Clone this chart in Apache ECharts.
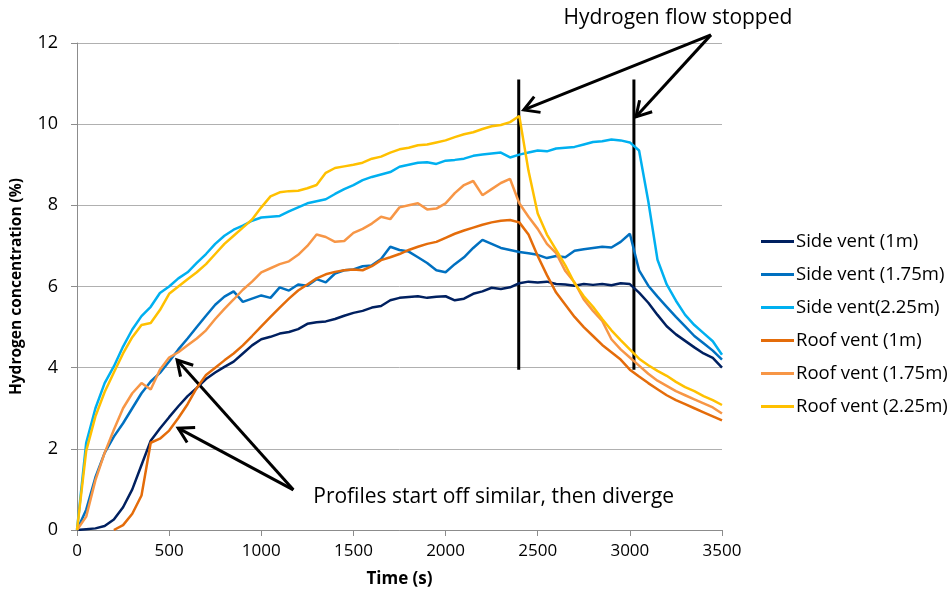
<!DOCTYPE html>
<html>
<head>
<meta charset="utf-8">
<script src="https://cdn.jsdelivr.net/npm/echarts@6/dist/echarts.min.js"></script>
<style>
    html, body { margin: 0; padding: 0; background: #fff; }
    #chart { width: 952px; height: 602px; }
</style>
</head>
<body>
<div id="chart"></div>
<script>
// time (s), every 50 s
const times = [
    0, 50, 100, 150, 200, 250, 300, 350, 400, 450,
    500, 550, 600, 650, 700, 750, 800, 850, 900, 950,
    1000, 1050, 1100, 1150, 1200, 1250, 1300, 1350, 1400, 1450,
    1500, 1550, 1600, 1650, 1700, 1750, 1800, 1850, 1900, 1950,
    2000, 2050, 2100, 2150, 2200, 2250, 2300, 2350, 2400, 2450,
    2500, 2550, 2600, 2650, 2700, 2750, 2800, 2850, 2900, 2950,
    3000, 3050, 3100, 3150, 3200, 3250, 3300, 3350, 3400, 3450, 3500
];

// hydrogen concentration (%)
const sideVent1m = [
    0, 0.02, 0.04, 0.1, 0.26, 0.56, 1.0, 1.6, 2.2, 2.5,
    2.78, 3.05, 3.3, 3.5, 3.72, 3.88, 4.02, 4.15, 4.35, 4.55,
    4.7, 4.76, 4.84, 4.88, 4.95, 5.08, 5.12, 5.14, 5.2, 5.28,
    5.35, 5.4, 5.48, 5.52, 5.66, 5.72, 5.74, 5.76, 5.72, 5.75,
    5.76, 5.66, 5.7, 5.82, 5.88, 5.97, 5.94, 5.98, 6.08, 6.12,
    6.1, 6.12, 6.06, 6.05, 6.02, 6.06, 6.04, 6.06, 6.03, 6.08,
    6.06, 5.85, 5.6, 5.3, 5.02, 4.82, 4.66, 4.5, 4.35, 4.24, 4.0
];
const sideVent175m = [
    0, 0.5, 1.3, 1.9, 2.3, 2.63, 3.0, 3.37, 3.66, 3.87,
    4.15, 4.45, 4.72, 5.0, 5.28, 5.55, 5.75, 5.88, 5.62, 5.7,
    5.78, 5.72, 5.98, 5.9, 6.05, 6.02, 6.18, 6.1, 6.32, 6.4,
    6.42, 6.5, 6.52, 6.68, 6.98, 6.9, 6.86, 6.72, 6.58, 6.4,
    6.35, 6.55, 6.72, 6.95, 7.15, 7.05, 6.95, 6.9, 6.85, 6.82,
    6.78, 6.7, 6.75, 6.72, 6.88, 6.92, 6.95, 6.98, 6.96, 7.1,
    7.3, 6.4, 6.02, 5.75, 5.5, 5.25, 5.02, 4.78, 4.6, 4.42, 4.2
];
const sideVent225m = [
    0, 2.15, 3.0, 3.62, 4.03, 4.52, 4.94, 5.27, 5.5, 5.84,
    6.0, 6.2, 6.35, 6.58, 6.8, 7.05, 7.25, 7.4, 7.5, 7.62,
    7.7, 7.72, 7.74, 7.85, 7.95, 8.05, 8.1, 8.15, 8.28, 8.4,
    8.5, 8.62, 8.7, 8.76, 8.82, 8.95, 9.0, 9.05, 9.06, 9.02,
    9.1, 9.12, 9.15, 9.22, 9.25, 9.28, 9.3, 9.18, 9.25, 9.3,
    9.35, 9.33, 9.4, 9.42, 9.44, 9.5, 9.56, 9.58, 9.62, 9.6,
    9.55, 9.35, 8.1, 6.66, 6.05, 5.65, 5.3, 5.05, 4.85, 4.65, 4.32
];
const roofVent1m = [
    null, null, null, null, 0.0, 0.12, 0.4, 0.85, 2.15, 2.25,
    2.45, 2.76, 3.1, 3.5, 3.82, 4.0, 4.18, 4.35, 4.55, 4.78,
    5.02, 5.25, 5.48, 5.7, 5.9, 6.05, 6.2, 6.3, 6.36, 6.4,
    6.42, 6.4, 6.5, 6.65, 6.72, 6.8, 6.9, 6.98, 7.05, 7.1,
    7.2, 7.3, 7.38, 7.45, 7.52, 7.58, 7.62, 7.64, 7.58, 7.28,
    6.75, 6.28, 5.85, 5.55, 5.25, 5.0, 4.78, 4.56, 4.38, 4.2,
    3.95, 3.78, 3.62, 3.47, 3.32, 3.2, 3.1, 3.0, 2.9, 2.8, 2.7
];
const roofVent175m = [
    0, 0.33, 1.23, 1.9, 2.47, 3.0, 3.37, 3.62, 3.46, 3.95,
    4.25, 4.38, 4.55, 4.72, 4.92, 5.2, 5.45, 5.68, 5.92, 6.12,
    6.35, 6.45, 6.55, 6.62, 6.78, 7.0, 7.28, 7.22, 7.1, 7.12,
    7.32, 7.42, 7.55, 7.72, 7.66, 7.95, 8.0, 8.05, 7.9, 7.92,
    8.05, 8.3, 8.5, 8.6, 8.25, 8.4, 8.55, 8.65, 8.05, 7.72,
    7.42, 7.05, 6.82, 6.38, 6.1, 5.68, 5.4, 5.15, 4.7, 4.45,
    4.25, 4.05, 3.85, 3.68, 3.55, 3.42, 3.32, 3.22, 3.12, 3.02, 2.87
];
const roofVent225m = [
    0, 1.95, 2.8, 3.4, 3.88, 4.35, 4.75, 5.05, 5.1, 5.42,
    5.82, 6.0, 6.18, 6.35, 6.55, 6.8, 7.05, 7.25, 7.45, 7.65,
    7.95, 8.22, 8.32, 8.35, 8.36, 8.42, 8.5, 8.8, 8.92, 8.96,
    9.0, 9.05, 9.15, 9.2, 9.3, 9.38, 9.42, 9.48, 9.5, 9.55,
    9.6, 9.68, 9.75, 9.8, 9.88, 9.95, 9.98, 10.05, 10.2, 8.85,
    7.8, 7.28, 6.9, 6.52, 6.08, 5.76, 5.5, 5.2, 4.92, 4.68,
    4.45, 4.22, 4.06, 3.92, 3.8, 3.65, 3.52, 3.42, 3.3, 3.2, 3.08
];

const seriesNames = [
    'Side vent (1m)', 'Side vent (1.75m)', 'Side vent(2.25m)',
    'Roof vent (1m)', 'Roof vent (1.75m)', 'Roof vent (2.25m)'
];
const seriesValues = [sideVent1m, sideVent175m, sideVent225m, roofVent1m, roofVent175m, roofVent225m];
const seriesColors = ['#002060', '#0070C0', '#00B0F0', '#E46C0A', '#F79646', '#FFC000'];

// annotations, in data units (time s, concentration %)
const flowStopTimes = [2397, 3022];
const flowStopRange = [3.95, 11.1];
const flowArrowFrom = [3440, 12.2];
const flowArrowTips = [[2424, 10.35], [3033, 10.18]];
const flowLabel = 'Hydrogen flow stopped';
const flowLabelAt = [3261, 12.62];
const profileArrowFrom = [1174, 0.99];
const profileArrowTips = [[543, 4.19], [549, 2.51]];
const profileLabel = 'Profiles start off similar, then diverge';
const profileLabelAt = [1282, 0.81];

const FONT = "'Open Sans', 'Noto Sans', sans-serif";

const chart = echarts.init(document.getElementById('chart'), null, { renderer: 'canvas' });

const option = {
    animation: false,
    backgroundColor: '#fff',
    textStyle: { fontFamily: FONT },
    grid: { left: 77, right: 230, top: 43, bottom: 72 },
    legend: {
        orient: 'vertical',
        left: 756,
        top: 227,
        icon: 'rect',
        itemWidth: 33,
        itemHeight: 3,
        itemGap: 14,
        textStyle: { fontFamily: FONT, fontSize: 18.5, lineHeight: 19, color: '#000', padding: [0, 0, 0, -3] },
        data: seriesNames
    },
    xAxis: {
        type: 'value',
        min: 0,
        max: 3500,
        interval: 500,
        name: 'Time (s)',
        nameLocation: 'middle',
        nameGap: 41,
        nameTextStyle: { fontFamily: FONT, fontSize: 17, fontWeight: 'bold', color: '#000' },
        axisLine: { show: true, lineStyle: { color: '#8c8c8c', width: 1 } },
        axisTick: { show: true, length: 6, lineStyle: { color: '#8c8c8c' } },
        axisLabel: { fontFamily: FONT, fontSize: 17, color: '#000', margin: 13, formatter: (v) => String(v) },
        splitLine: { show: false }
    },
    yAxis: {
        type: 'value',
        min: 0,
        max: 12,
        interval: 2,
        name: 'Hydrogen concentration (%)',
        nameLocation: 'middle',
        nameGap: 52,
        nameTextStyle: { fontFamily: FONT, fontSize: 15.5, fontWeight: 'bold', color: '#000' },
        axisLine: { show: true, lineStyle: { color: '#8c8c8c', width: 1 } },
        axisTick: { show: true, length: 6, lineStyle: { color: '#8c8c8c' } },
        axisLabel: { fontFamily: FONT, fontSize: 18, color: '#000', margin: 19 },
        splitLine: { show: true, lineStyle: { color: '#b0b0b0', width: 1 } }
    },
    series: seriesNames.map((name, k) => ({
        name: name,
        type: 'line',
        symbol: 'none',
        color: seriesColors[k],
        lineStyle: { width: 2.5, color: seriesColors[k] },
        data: times.map((t, i) => [t, seriesValues[k][i]])
    }))
};

chart.setOption(option);

// annotation graphics, placed through the axes
const px = (p) => chart.convertToPixel({ gridIndex: 0 }, p);

function arrow(from, tip) {
    const a = px(from);
    const b = px(tip);
    const dx = b[0] - a[0];
    const dy = b[1] - a[1];
    const len = Math.sqrt(dx * dx + dy * dy);
    const ux = dx / len;
    const uy = dy / len;
    const head = 17;
    const ang = Math.PI / 6;
    const h1 = [b[0] - head * (ux * Math.cos(ang) - uy * Math.sin(ang)), b[1] - head * (uy * Math.cos(ang) + ux * Math.sin(ang))];
    const h2 = [b[0] - head * (ux * Math.cos(-ang) - uy * Math.sin(-ang)), b[1] - head * (uy * Math.cos(-ang) + ux * Math.sin(-ang))];
    return [
        { type: 'line', shape: { x1: a[0], y1: a[1], x2: b[0], y2: b[1] }, style: { stroke: '#000', lineWidth: 3 } },
        { type: 'polyline', shape: { points: [h1, b, h2] }, style: { stroke: '#000', lineWidth: 3, fill: null } }
    ];
}

const elements = [];
flowStopTimes.forEach((t) => {
    const top = px([t, flowStopRange[1]]);
    const bottom = px([t, flowStopRange[0]]);
    elements.push({ type: 'line', shape: { x1: top[0], y1: top[1], x2: bottom[0], y2: bottom[1] }, style: { stroke: '#000', lineWidth: 3 } });
});
flowArrowTips.forEach((tip) => elements.push(...arrow(flowArrowFrom, tip)));
profileArrowTips.forEach((tip) => elements.push(...arrow(profileArrowFrom, tip)));

const fl = px(flowLabelAt);
elements.push({
    type: 'text', x: fl[0], y: fl[1],
    style: { text: flowLabel, fontFamily: FONT, fontSize: 21, fill: '#000', align: 'center', verticalAlign: 'middle' }
});
const pl = px(profileLabelAt);
elements.push({
    type: 'text', x: pl[0], y: pl[1],
    style: { text: profileLabel, fontFamily: FONT, fontSize: 21, fill: '#000', align: 'left', verticalAlign: 'middle' }
});

chart.setOption({ graphic: { elements: elements } });
</script>
</body>
</html>
